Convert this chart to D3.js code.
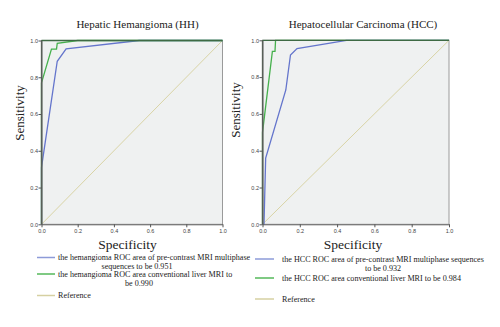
<!DOCTYPE html>
<html><head><meta charset="utf-8">
<script src="https://cdn.jsdelivr.net/npm/d3@7"></script>
<style>body{margin:0;background:#fff;}svg{display:block;font-family:"Liberation Serif","Times New Roman",serif;}</style>
</head><body>
<svg id="c" width="500" height="327"></svg>
<script>
const tickValues = [0, 0.2, 0.4, 0.6, 0.8, 1.0];
const titles = ["Hepatic Hemangioma (HH)", "Hepatocellular Carcinoma (HCC)"];
// ROC points [1-specificity, sensitivity]
const hhPre = [[0,0],[0,0.31],[0.087,0.887],[0.136,0.955],[0.54,1],[1,1]];
const hhConv = [[0,0],[0,0.77],[0.055,0.953],[0.083,0.953],[0.087,0.985],[0.2,1],[1,1]];
const hccPre = [[0,0],[0.008,0],[0.017,0.36],[0.125,0.73],[0.15,0.92],[0.185,0.955],[0.45,1],[1,1]];
const hccConv = [[0,0],[0,0.5],[0.053,0.94],[0.067,0.94],[0.07,1],[1,1]];
const refLine = [[0,0],[1,1]];
const legendHH = [
  ["the hemangioma ROC area of pre-contrast MRI multiphase","sequences to be 0.951"],
  ["the hemangioma ROC area  conventional liver MRI to","be 0.990"],
  ["Reference"]
];
const legendHCC = [
  ["the HCC ROC area of pre-contrast MRI multiphase sequences","to be 0.932"],
  ["the HCC ROC area  conventional liver MRI to be 0.984"],
  ["Reference"]
];
const colors = ["#6475cc","#45b04c","#d9d4a6"];
const legendColors = ["#8d9bd8","#55b85a","#d6d0a2"];

const svg = d3.select("#c");
const panels = [
  {x0:41.5, x1:222.5, y0:224.3, y1:40.5, title:titles[0], tx:137.5, ylx:24, yly:113, xlx:127.5,
   series:[hhPre,hhConv,refLine], legend:legendHH, lx0:37, lx1:55, ltx:58, lys:[257.5,274,295.5], wrapCx:[137,139]},
  {x0:262.5, x1:449, y0:224.3, y1:40.3, title:titles[1], tx:363, ylx:240, yly:110, xlx:353,
   series:[hccPre,hccConv,refLine], legend:legendHCC, lx0:255, lx1:274, ltx:282, lys:[259,278,299], wrapCx:[383,null]}
];

panels.forEach(p => {
  const x = d3.scaleLinear().domain([0,1]).range([p.x0,p.x1]);
  const y = d3.scaleLinear().domain([0,1]).range([p.y0,p.y1]);
  const g = svg.append("g");
  g.append("rect").attr("x",p.x0).attr("y",p.y1).attr("width",p.x1-p.x0).attr("height",p.y0-p.y1)
    .attr("fill","#eff1f1").attr("stroke","#9a9a9a").attr("stroke-width",1);
  const line = d3.line().x(d=>x(d[0])).y(d=>y(d[1]));
  [2,0,1].forEach(i => {
    g.append("path").attr("d", line(p.series[i])).attr("fill","none")
      .attr("stroke", colors[i]).attr("stroke-width", i===2?1:1.3);
  });
  g.append("line").attr("x1",p.x0).attr("x2",p.x0).attr("y1",p.y0).attr("y2",p.y1).attr("stroke","#4a5a4a").attr("stroke-width",1.3);
  g.append("line").attr("x1",p.x0).attr("x2",p.x1).attr("y1",p.y1).attr("y2",p.y1).attr("stroke","#3e6a44").attr("stroke-width",1.3);
  const ax = g.append("g").attr("transform",`translate(0,${p.y0})`)
    .call(d3.axisBottom(x).tickValues(tickValues).tickFormat(d3.format(".1f")).tickSize(3).tickSizeOuter(0));
  const ay = g.append("g").attr("transform",`translate(${p.x0},0)`)
    .call(d3.axisLeft(y).tickValues(tickValues).tickFormat(d3.format(".1f")).tickSize(3).tickSizeOuter(0));
  [ax,ay].forEach(a => {
    a.select(".domain").attr("stroke","#666");
    a.selectAll(".tick line").attr("stroke","#555");
    a.selectAll(".tick text").attr("font-size",5.5).attr("fill","#444").attr("font-family","Liberation Sans, Arial, sans-serif");
  });
  ay.selectAll(".tick text").attr("x",-3.5);
  ax.selectAll(".tick text").attr("y",5);
  g.append("text").attr("x",p.tx).attr("y",28).attr("text-anchor","middle").attr("font-size",11).attr("fill","#222").text(p.title);
  g.append("text").attr("transform",`translate(${p.ylx},${p.yly}) rotate(-90)`).attr("text-anchor","middle")
    .attr("font-size",13).attr("fill","#222").text("Sensitivity");
  g.append("text").attr("x",p.xlx).attr("y",249).attr("text-anchor","middle").attr("font-size",13.5).attr("fill","#222").text("Specificity");
  p.legend.forEach((lines,i) => {
    const ly = p.lys[i];
    g.append("line").attr("x1",p.lx0).attr("x2",p.lx1).attr("y1",ly).attr("y2",ly)
      .attr("stroke",legendColors[i]).attr("stroke-width",1.5);
    lines.forEach((t,j) => {
      const tx = g.append("text").attr("font-size",8.1).attr("fill","#222").attr("y", ly + 2.5 + j*9).text(t);
      if (j===0) tx.attr("x",p.ltx);
      else tx.attr("x",p.wrapCx[i]).attr("text-anchor","middle");
    });
  });
});
</script>
</body></html>
